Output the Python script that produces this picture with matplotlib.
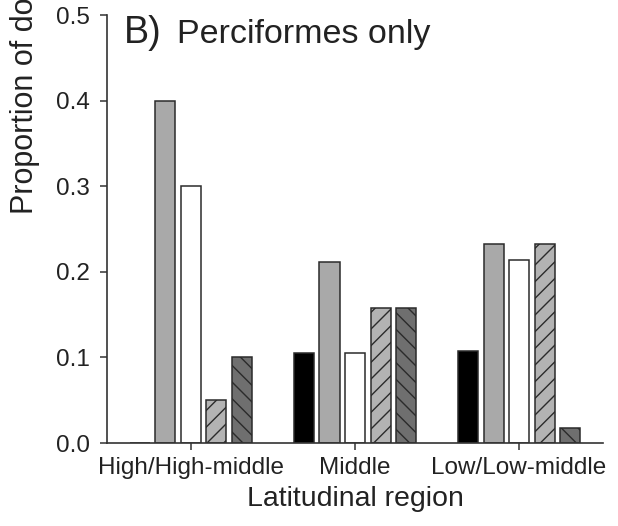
import numpy as np
import matplotlib
matplotlib.use("Agg")
import matplotlib.pyplot as plt

plt.rcParams["font.family"] = ["Liberation Sans", "DejaVu Sans"]
plt.rcParams["hatch.linewidth"] = 1.0

# latitudinal regions on the x axis
regions = ["High/High-middle", "Middle", "Low/Low-middle"]

# five bar series per region, left to right
black_vals = [0.0, 0.105, 0.107]
grey_vals = [0.40, 0.211, 0.232]
white_vals = [0.30, 0.105, 0.214]
hatch_light_vals = [0.05, 0.158, 0.232]
hatch_dark_vals = [0.10, 0.158, 0.018]

series = [black_vals, grey_vals, white_vals, hatch_light_vals, hatch_dark_vals]
fills = ["#000000", "#a9a9a9", "#ffffff", "#b3b3b3", "#6f6f6f"]
hatches = [None, None, None, "//", "\\\\"]

fig = plt.figure(figsize=(6.18, 5.26), dpi=100)
ax = fig.add_axes([107 / 618, 83 / 526, 496 / 618, 428 / 526])

x = np.arange(len(regions))
step = 0.1555
width = 0.122
for i, (vals, fc, h) in enumerate(zip(series, fills, hatches)):
    ax.bar(x + (i - 2) * step, vals, width, color=fc, edgecolor="#2b2b2b",
           linewidth=1.1, hatch=h, zorder=2)

ax.set_xlim(-0.512, 2.512)
ax.set_ylim(0, 0.5)
ax.set_yticks([0.0, 0.1, 0.2, 0.3, 0.4, 0.5])
ax.set_yticklabels(["0.0", "0.1", "0.2", "0.3", "0.4", "0.5"])
ax.set_xticks(x)
ax.set_xticklabels(regions)

for side in ("top", "right"):
    ax.spines[side].set_visible(False)
for side in ("left", "bottom"):
    ax.spines[side].set_linewidth(1.2)
    ax.spines[side].set_color("#333333")
ax.tick_params(axis="y", length=5, width=1.1, pad=7, labelsize=17.5,
               color="#333333", labelcolor="#222222")
ax.tick_params(axis="x", length=5, width=1.1, pad=5, labelsize=17.5,
               color="#333333", labelcolor="#222222")

ax.set_xlabel("Latitudinal region", fontsize=20.5, color="#222222", labelpad=5)

# y label is cut off by the top edge in the original
fig.text(25 / 618, 1 - 214 / 526, "Proportion of documented cases",
         rotation=90, ha="center", va="bottom", fontsize=22, color="#222222")

fig.text(124 / 618, 1 - 43 / 526, "B)", fontsize=27, color="#222222",
         ha="left", va="baseline")
fig.text(177 / 618, 1 - 43 / 526, "Perciformes only", fontsize=24.5,
         color="#222222", ha="left", va="baseline")

fig.savefig("out.png", dpi=100)
